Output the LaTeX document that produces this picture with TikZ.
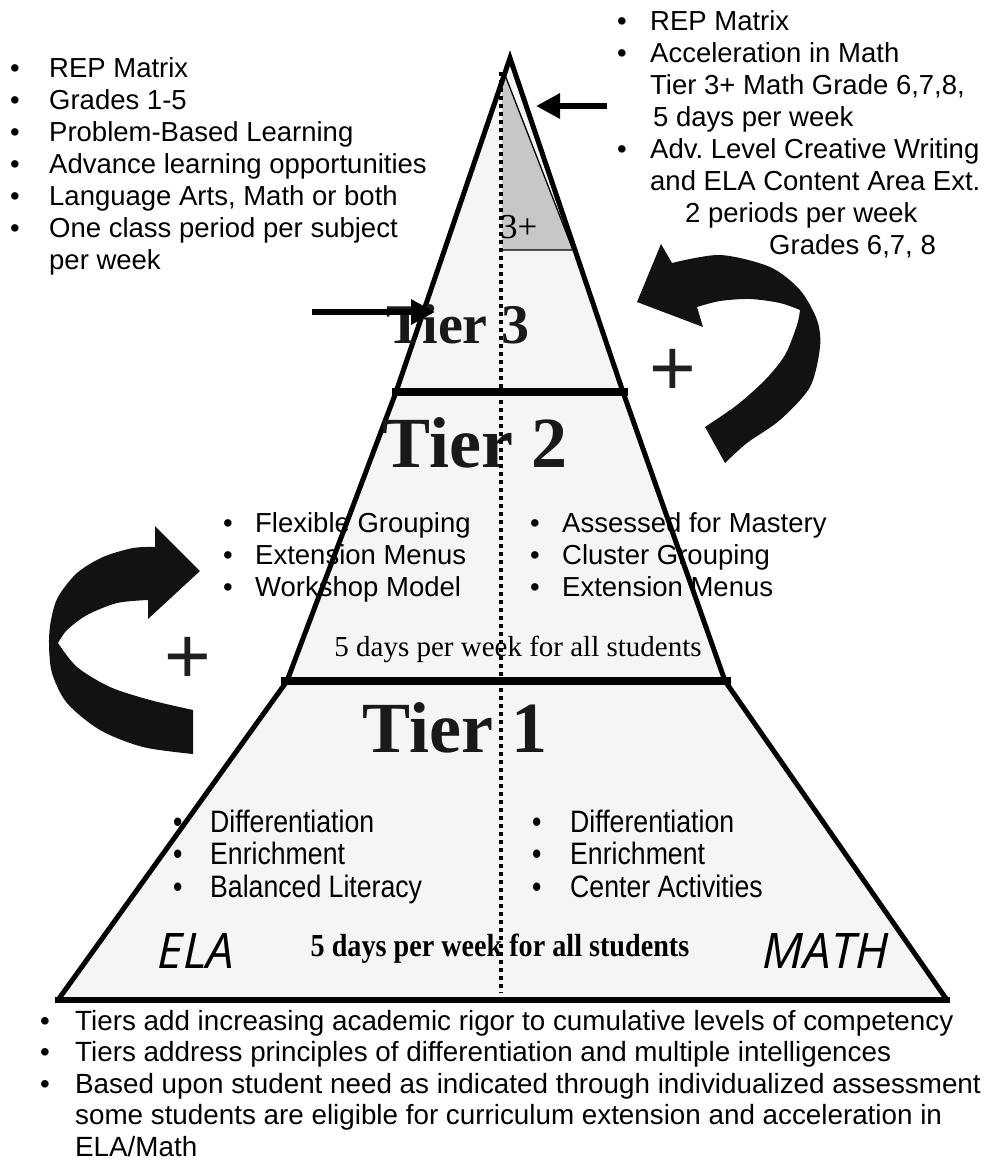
\documentclass[tikz,border=0pt]{standalone}
\usepackage{fontspec}
\setmainfont{Liberation Serif}
\newfontfamily\sansf{Liberation Sans}
\newfontfamily\narrowf[FakeStretch=0.86]{Liberation Sans}
\newfontfamily\narrowserif[FakeStretch=0.88]{Liberation Serif}
\newfontfamily\opens{Open Sans}
\usetikzlibrary{arrows.meta}
\newcommand\bu[1]{\makebox[#1][l]{\textbullet}}
\newcommand\blist[1]{\begin{tabular}[t]{@{}l@{}l@{}}#1\end{tabular}}
\begin{document}
\begin{tikzpicture}[x=1pt,y=-1pt,
  tierfill/.style={fill=black!4},
  plusfill/.style={fill=black!22},
  edge/.style={line width=5pt},
  sepline/.style={line width=8pt},
  dotline/.style={line width=4pt, dash pattern=on 4pt off 4pt},
  smallarrow/.style={line width=6pt, -{Triangle[length=24pt,width=24pt]}},
  bigarrow/.style={fill=black!93},
  listnode/.style={anchor=base west, inner sep=0pt, font=\sansf\fontsize{27.5}{32}\selectfont},
  narrowlist/.style={anchor=base west, inner sep=0pt, font=\narrowf\fontsize{31}{32.5}\selectfont},
  tierlab/.style={anchor=base, inner sep=0pt, font=\bfseries\fontsize{72}{80}\selectfont, text=black!90},
  plussign/.style={inner sep=0pt, font=\sansf\fontsize{80}{80}\selectfont, text=black!88},
  subjlab/.style={anchor=base, inner sep=0pt, font=\opens\itshape\fontsize{49}{56}\selectfont},
]
\useasboundingbox (0,0) rectangle (988,1162);
\fill[white] (0,0) rectangle (988,1162);

% pyramid corners
\coordinate (apex) at (510,58);
\coordinate (l3) at (396,392);
\coordinate (r3) at (623,392);
\coordinate (l2) at (287,681);
\coordinate (r2) at (725,681);
\coordinate (l1) at (58,1000);
\coordinate (r1) at (947,1000);

\fill[tierfill] (apex) -- (r3) -- (r2) -- (r1) -- (l1) -- (l2) -- (l3) -- cycle;

% Tier 3+ region
\fill[plusfill] (502,72) -- (505,75) -- (573,250) -- (502,250) -- cycle;
\draw[line width=1.3pt] (505,75) -- (573,250) -- (502,250);

% edges
\draw[edge] (l3) -- (apex) -- (r3);
\draw[edge] (l3) -- (l2);
\draw[edge] (r3) -- (r2);
\draw[edge] (l2) -- (l1);
\draw[edge] (r2) -- (r1);
\coordinate (s3a) at (392,392); \coordinate (s3b) at (628,392);
\coordinate (s2a) at (281,681); \coordinate (s2b) at (731,681);
\coordinate (s1a) at (55,1000); \coordinate (s1b) at (950,1000);
\draw[sepline] (s3a) -- (s3b);
\draw[sepline] (s2a) -- (s2b);
\draw[line width=6pt] (s1a) -- (s1b);

% tier labels
\node[tierlab, font=\bfseries\fontsize{56}{60}\selectfont] (t3) at (458,343) {Tier 3};
\node[tierlab] (t2) at (475,467) {Tier 2};
\node[tierlab] (t1) at (455,752) {Tier 1};
\node[anchor=base west, inner sep=0pt, font=\fontsize{35}{36}\selectfont, text=black] (tp) at (500,238) {3+};

% top-left list
\node[listnode] (tl) at (10,77) {\blist{%
\bu{39pt} & REP Matrix\\
\bu{39pt} & Grades 1-5\\
\bu{39pt} & Problem-Based Learning\\
\bu{39pt} & Advance learning opportunities\\
\bu{39pt} & Language Arts, Math or both\\
\bu{39pt} & One class period per subject\\
 & per week}};

% top-right list
\node[listnode] (tr) at (617,30) {\blist{%
\bu{33pt} & REP Matrix\\
\bu{33pt} & Acceleration in Math\\
 & Tier 3+ Math Grade 6,7,8,\\
 & \hspace*{3pt}5 days per week\\
\bu{33pt} & Adv.\ Level Creative Writing\\
 & and ELA Content Area Ext.\\
 & \hspace*{35pt}2 periods per week\\
 & \hspace*{119pt}Grades 6,7, 8}};

% tier 2 lists
\node[listnode] (t2l) at (223,532) {\blist{%
\bu{32pt} & Flexible Grouping\\
\bu{32pt} & Extension Menus\\
\bu{32pt} & Workshop Model}};
\node[listnode] (t2r) at (530,532) {\blist{%
\bu{32pt} & Assessed for Mastery\\
\bu{32pt} & Cluster Grouping\\
\bu{32pt} & Extension Menus}};
\node[anchor=base, inner sep=0pt, font=\fontsize{29}{30}\selectfont] (d2) at (518,656) {5 days per week for all students};

% tier 1 lists
\node[narrowlist] (t1l) at (173,832) {\blist{%
\bu{37pt} & Differentiation\\
\bu{37pt} & Enrichment\\
\bu{37pt} & Balanced Literacy}};
\node[narrowlist] (t1r) at (532,832) {\blist{%
\bu{38pt} & Differentiation\\
\bu{38pt} & Enrichment\\
\bu{38pt} & Center Activities}};
\node[anchor=base, inner sep=0pt, font=\narrowserif\bfseries\fontsize{32}{34}\selectfont] (d1) at (500,956) {5 days per week for all students};
\node[subjlab] (ela) at (196,968) {ELA};
\node[subjlab] (math) at (826,968) {MATH};

% dotted divider
\coordinate (dtop) at (501,72);
\coordinate (dbot) at (501,993);
\draw[dotline] (dtop) -- (dbot);

% bottom list
\node[listnode, font=\sansf\fontsize{27.8}{31.5}\selectfont] (bl) at (40,1030) {\blist{%
\bu{35pt} & Tiers add increasing academic rigor to cumulative levels of competency\\
\bu{35pt} & Tiers address principles of differentiation and multiple intelligences\\
\bu{35pt} & Based upon student need as indicated through individualized assessment\\
 & some students are eligible for curriculum extension and acceleration in\\
 & ELA/Math}};

% small arrows
\coordinate (a1s) at (312,312); \coordinate (a1e) at (435,312);
\draw[smallarrow] (a1s) -- (a1e);
\coordinate (a2s) at (607,106); \coordinate (a2e) at (536,106);
\draw[smallarrow] (a2s) -- (a2e);

% plus signs
\node[plussign] (pr) at (673,372) {+};
\node[plussign] (pl) at (188,660) {+};

% left curved arrow
\fill[bigarrow] (200,571) -- (155,526) -- (155,547)
 -- plot[smooth] coordinates {(155,547) (133,548) (103,557) (77,573) (58,597) (51,620) (49,643) (52,673) (67,703) (100,730) (143,747) (193,754)}
 -- (193,710)
 -- plot[smooth] coordinates {(193,710) (150,700) (110,687) (77,667) (58,643)}
 -- plot[smooth] coordinates {(58,643) (67,630) (87,615) (117,603) (148,600)}
 -- (148,619) -- cycle;

% right curved arrow
\fill[bigarrow] (637,302) -- (661,244) -- (672,263)
 -- plot[smooth] coordinates {(672,263) (720,255) (770,267) (800,290) (817,320) (820,347) (810,387) (780,420) (747,443) (725,463)}
 -- (705,427)
 -- plot[smooth] coordinates {(705,427) (737,405) (765,380) (785,355) (797,325) (800,310)}
 -- plot[smooth] coordinates {(800,310) (780,303) (750,299) (720,301) (697,307)}
 -- (703,327) -- cycle;
\end{tikzpicture}
\end{document}
